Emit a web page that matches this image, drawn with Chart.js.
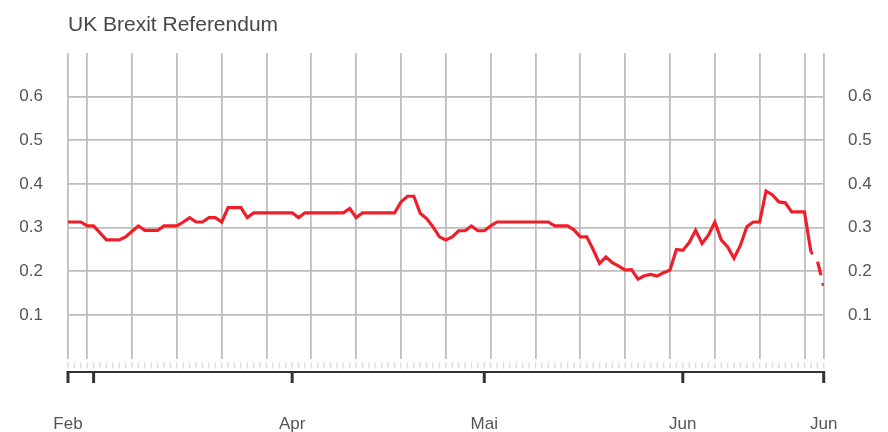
<!DOCTYPE html>
<html><head><meta charset="utf-8">
<script src="https://cdn.jsdelivr.net/npm/chart.js@4.4.0/dist/chart.umd.min.js"></script>
<style>html,body{margin:0;padding:0;background:#fff}#wrap{width:888px;height:432px}</style>
</head><body><div id="wrap"><canvas id="c" width="888" height="432"></canvas></div>
<script>
// ---- data (day index 0 = 2016-02-26, last = 2016-06-23) ----
const chartTitle = 'UK Brexit Referendum';
const values = [
  0.313,0.313,0.313,0.304,0.304,0.288,0.272,0.272,0.272,0.279,
  0.292,0.304,0.294,0.294,0.294,0.304,0.304,0.304,0.313,0.323,
  0.313,0.313,0.323,0.323,0.313,0.346,0.346,0.346,0.323,0.334,
  0.334,0.334,0.334,0.334,0.334,0.334,0.323,0.334,0.334,0.334,
  0.334,0.334,0.334,0.334,0.344,0.323,0.334,0.334,0.334,0.334,
  0.334,0.334,0.359,0.372,0.372,0.333,0.321,0.302,0.279,0.272,
  0.279,0.293,0.293,0.304,0.293,0.293,0.304,0.313,0.313,0.313,
  0.313,0.313,0.313,0.313,0.313,0.313,0.304,0.304,0.304,0.295,
  0.279,0.279,0.250,0.218,0.233,0.220,0.212,0.203,0.204,0.182,
  0.190,0.193,0.189,0.197,0.203,0.250,0.248,0.266,0.294,0.264,
  0.283,0.313,0.272,0.256,0.230,0.260,0.302,0.313,0.313,0.384,
  0.375,0.359,0.357,0.336,0.336,0.336,0.245,0.225,0.165
];
const monthTickDays   = [0, 4, 35, 65, 96, 118];
const monthTickLabels = ['Feb', '', 'Apr', 'Mai', 'Jun', 'Jun'];
const weekGridDays    = [0, 3, 10, 17, 24, 31, 38, 45, 52, 59, 66, 73, 80, 87, 94, 101, 108, 115, 118];
const yTickValues     = [0.1, 0.2, 0.3, 0.4, 0.5, 0.6];
const dashedFromDay   = 116;

// ---- styles ----
const FONT = "'Liberation Sans', Arial, Helvetica, sans-serif";
const RED = '#ef1f2a';
const GRID = '#bebebe';
const TXT = '#555555';

const points = values.map((v, i) => ({x: i, y: v}));

const bottomAxisPlugin = {
  id: 'bottomAxis',
  afterDraw(chart) {
    const c = chart.ctx, xs = chart.scales.x;
    const lastDay = values.length - 1;
    c.save();
    c.strokeStyle = '#dedede';
    c.lineWidth = 1.5;
    for (let d = 0; d <= lastDay; d++) {
      const px = xs.getPixelForValue(d);
      c.beginPath(); c.moveTo(px, 362.5); c.lineTo(px, 368.5); c.stroke();
    }
    c.strokeStyle = '#333';
    c.lineWidth = 2;
    c.beginPath();
    c.moveTo(xs.getPixelForValue(0), 372);
    c.lineTo(xs.getPixelForValue(lastDay), 372);
    c.stroke();
    c.lineWidth = 3;
    monthTickDays.forEach(d => {
      const px = xs.getPixelForValue(d);
      c.beginPath(); c.moveTo(px, 371); c.lineTo(px, 383); c.stroke();
    });
    c.restore();
  }
};

const noPad = s => { s.paddingLeft = 0; s.paddingRight = 0; };

new Chart(document.getElementById('c'), {
  type: 'line',
  data: {
    datasets: [{
      data: points,
      borderColor: RED,
      borderWidth: 3.2,
      pointRadius: 0,
      tension: 0,
      fill: false,
      segment: {
        borderDash: ctx => ctx.p0.parsed.x >= dashedFromDay ? [3, 9, 14, 8, 3, 60] : undefined
      }
    }]
  },
  options: {
    responsive: false,
    animation: false,
    layout: { padding: 0 },
    plugins: {
      legend: { display: false },
      tooltip: { enabled: false },
      title: {
        display: true,
        text: chartTitle,
        align: 'start',
        fullSize: false,
        color: '#474747',
        font: { family: FONT, size: 21, weight: 'normal' },
        padding: { top: 12.9, bottom: 14.9 }
      }
    },
    scales: {
      x: {
        type: 'linear', position: 'bottom', min: 0, max: values.length - 1,
        afterBuildTicks: s => { s.ticks = monthTickDays.map(v => ({ value: v })); },
        afterFit: s => { s.height = 73.3; noPad(s); },
        grid: { display: false, drawTicks: false },
        border: { display: false },
        ticks: {
          autoSkip: false, maxRotation: 0, padding: 55,
          color: TXT, font: { family: FONT, size: 17 },
          callback: (v, i) => monthTickLabels[i]
        }
      },
      xg: {
        type: 'linear', position: 'bottom', min: 0, max: values.length - 1,
        afterBuildTicks: s => { s.ticks = weekGridDays.map(v => ({ value: v })); },
        afterFit: s => { s.height = 0; noPad(s); },
        grid: { color: GRID, lineWidth: 1.8, drawTicks: false },
        border: { display: false },
        ticks: { display: false }
      },
      y: {
        position: 'left', min: 0, max: 0.7,
        afterBuildTicks: s => { s.ticks = yTickValues.map(v => ({ value: v })); },
        afterFit: s => { s.width = 68; },
        grid: { color: GRID, lineWidth: 1.8, drawTicks: false },
        border: { display: false },
        ticks: {
          padding: 25, color: TXT, font: { family: FONT, size: 17 },
          callback: v => Number(v).toFixed(1)
        }
      },
      y2: {
        position: 'right', min: 0, max: 0.7,
        afterBuildTicks: s => { s.ticks = yTickValues.map(v => ({ value: v })); },
        afterFit: s => { s.width = 64.3; },
        grid: { display: false, drawTicks: false },
        border: { display: false },
        ticks: {
          padding: 24.3, color: TXT, font: { family: FONT, size: 17 },
          callback: v => Number(v).toFixed(1)
        }
      }
    }
  },
  plugins: [bottomAxisPlugin]
});
</script>
</body></html>
